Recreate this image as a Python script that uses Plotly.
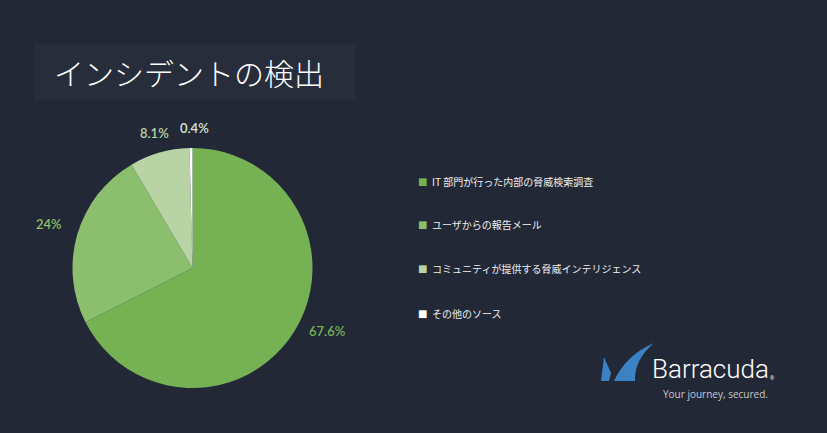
import math
import plotly.graph_objects as go

title = "インシデントの検出"
categories = ["IT 部門が行った内部の脅威検索調査", "ユーザからの報告メール",
              "コミュニティが提供する脅威インテリジェンス", "その他のソース"]
values = [67.6, 24, 8.1, 0.4]
colors = ["#76b254", "#8bbf6e", "#b8d3a4", "#ffffff"]
label_colors = ["#76b254", "#8bbf6e", "#b8d3a4", "#d9e6cf"]

W, H = 827, 433
BG = "#232837"
cx, cy, R = 192.5, 268, 120

fig = go.Figure()
fig.add_trace(go.Pie(
    values=values, labels=categories, sort=False, direction="clockwise",
    rotation=0, marker=dict(colors=colors, line=dict(width=0)),
    textinfo="none", hoverinfo="label+percent", showlegend=False,
    domain=dict(x=[(cx - R) / W, (cx + R) / W], y=[1 - (cy + R) / H, 1 - (cy - R) / H]),
))

annotations = []
shapes = []
# percentage labels outside
total = sum(values)
cum = 0
for v, c in zip(values, label_colors):
    mid = (cum + v / 2) / total * 2 * math.pi
    cum += v
    s, co = math.sin(mid), math.cos(mid)
    px = cx + 4 + s * 154
    py = cy - 7 - co * 133
    annotations.append(dict(x=px / W, y=1 - py / H, xref="paper", yref="paper",
                            text=f"{v:g}%", showarrow=False, xanchor="center", yanchor="middle",
                            font=dict(family="Lato", size=13, color=c, weight=600)))

# title box
shapes.append(dict(type="rect", xref="paper", yref="paper", x0=34 / W, x1=355 / W,
                   y0=1 - 100 / H, y1=1 - 44 / H, fillcolor="#282d3c", line=dict(width=0), layer="below"))
annotations.append(dict(x=52 / W, y=1 - 72 / H, xref="paper", yref="paper", text=title,
                        showarrow=False, xanchor="left", yanchor="middle",
                        font=dict(family="Noto Sans CJK JP", size=30, color="#ffffff", weight=300)))

# legend
leg_y = [181, 224, 268, 313]
for cat, c, ly in zip(categories, colors, leg_y):
    annotations.append(dict(x=416 / W, y=1 - ly / H, xref="paper", yref="paper", text="■",
                            showarrow=False, xanchor="left", yanchor="middle",
                            font=dict(family="DejaVu Sans", size=10, color=c)))
    annotations.append(dict(x=430 / W, y=1 - ly / H, xref="paper", yref="paper", text=cat,
                            showarrow=False, xanchor="left", yanchor="middle",
                            font=dict(family="Noto Sans CJK JP", size=10, color="#eeeeee")))

# logo
def P(x, y):
    return f"{x / W:.5f},{1 - y / H:.5f}"
fin = f"M {P(614,381)} Q {P(626,355)} {P(654,343)} Q {P(634,360)} {P(635,381)} Z"
small = f"M {P(601,381)} L {P(604,357)} L {P(611,373)} L {P(609,381)} Z"
for p in (fin, small):
    shapes.append(dict(type="path", xref="paper", yref="paper", path=p,
                       fillcolor="#3b82c4", line=dict(width=0)))
annotations.append(dict(x=650 / W, y=1 - 369 / H, xref="paper", yref="paper", text="Barracuda",
                        showarrow=False, xanchor="left", yanchor="middle",
                        font=dict(family="Roboto", size=26, color="#ffffff", weight=300)))
annotations.append(dict(x=768 / W, y=1 - 378 / H, xref="paper", yref="paper", text="®",
                        showarrow=False, xanchor="left", yanchor="middle",
                        font=dict(family="Open Sans", size=5, color="#ffffff")))
annotations.append(dict(x=770 / W, y=1 - 394 / H, xref="paper", yref="paper", text="Your journey, secured.",
                        showarrow=False, xanchor="right", yanchor="middle",
                        font=dict(family="Open Sans", size=10, color="#c5c9d1")))

fig.update_layout(width=W, height=H, margin=dict(l=0, r=0, t=0, b=0),
                  paper_bgcolor=BG, plot_bgcolor=BG, annotations=annotations, shapes=shapes)
fig.write_html("out.html")
